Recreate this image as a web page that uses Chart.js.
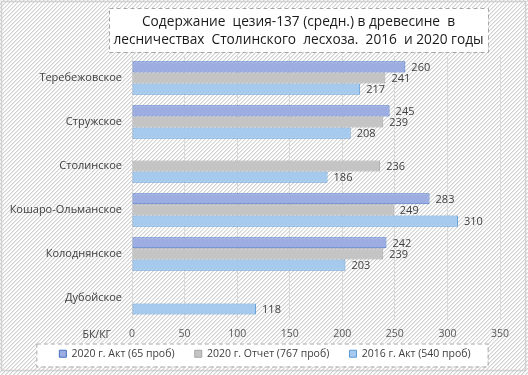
<!DOCTYPE html>
<html>
<head>
<meta charset="utf-8">
<script src="https://cdn.jsdelivr.net/npm/chart.js@4"></script>
<style>
  html, body { margin: 0; padding: 0; background: #fff; }
  #wrap { width: 528px; height: 375px; }
</style>
</head>
<body>
<div id="wrap"><canvas id="chart" width="528" height="375"></canvas></div>
<script>
'use strict'

const categories = ['Теребежовское', 'Стружское', 'Столинское', 'Кошаро-Ольманское', 'Колоднянское', 'Дубойское']
const act2020 = [260, 245, null, 283, 242, null]
const report2020 = [241, 239, 236, 249, 239, null]
const act2016 = [217, 208, 186, 310, 203, 118]
const seriesNames = ['2020 г. Акт (65 проб)', '2020 г. Отчет (767 проб)', '2016 г. Акт (540 проб)']
const xTicks = [0, 50, 100, 150, 200, 250, 300, 350]
const titleLines = ['Содержание  цезия-137 (средн.) в древесине  в', 'лесничествах  Столинского  лесхоза.  2016  и 2020 годы']
const unitLabel = 'БК/КГ'

const FONT = "'Open Sans', 'Noto Sans', sans-serif"
const TICK_PAD = 8

// light "/" hatch like the excel pattern fill
function makeHatch(ctx) {
  const c = document.createElement('canvas')
  c.width = 4
  c.height = 4
  const g = c.getContext('2d')
  const img = g.createImageData(4, 4)
  for (let y = 0; y < 4; y++) {
    for (let x = 0; x < 4; x++) {
      const i = (y * 4 + x) * 4
      const k = (x + y) % 4
      const v = k === 3 ? 210 : (k === 0 ? 234 : 255)
      img.data[i] = v
      img.data[i + 1] = v
      img.data[i + 2] = v
      img.data[i + 3] = 255
    }
  }
  g.putImageData(img, 0, 0)
  return ctx.createPattern(c, 'repeat')
}

function dashedBox(ctx, x, y, w, h) {
  ctx.save()
  ctx.fillStyle = '#fff'
  ctx.fillRect(x, y, w, h)
  ctx.setLineDash([4, 3])
  ctx.strokeStyle = '#a6a6a6'
  ctx.lineWidth = 1
  ctx.strokeRect(x + 0.5, y + 0.5, w, h)
  ctx.restore()
}

const decorPlugin = {
  id: 'decor',
  afterLayout(chart) {
    // legend is centred on the space left of the right padding; nudge it back to the middle
    chart.legend.left += 15
    chart.legend.right += 15
  },
  beforeDraw(chart) {
    const ctx = chart.ctx
    ctx.save()
    ctx.fillStyle = makeHatch(ctx)
    ctx.fillRect(0, 0, chart.width, chart.height)
    ctx.strokeStyle = '#d0d0d0'
    ctx.lineWidth = 1.5
    ctx.strokeRect(1.5, 1.5, 524, 369)
    ctx.restore()

    // title frame + text
    dashedBox(ctx, 109, 8, 379, 44)
    ctx.save()
    ctx.font = '13.7px ' + FONT
    ctx.fillStyle = '#1a1a1a'
    ctx.textAlign = 'center'
    ctx.textBaseline = 'middle'
    titleLines.forEach((line, i) => {
      ctx.fillText(line, 298.5, 22.5 + i * 18)
    })
    ctx.restore()

    // legend frame
    const boxes = chart.legend.legendHitBoxes
    if (boxes && boxes.length) {
      const last = boxes[boxes.length - 1]
      const left = boxes[0].left
      const right = last.left + last.width
      dashedBox(ctx, left - 23, boxes[0].top - 5, right - left + 40, 23)
    }
  },
  afterDatasetsDraw(chart) {
    const ctx = chart.ctx
    ctx.save()
    ctx.font = '11px ' + FONT
    ctx.fillStyle = '#404040'
    ctx.textAlign = 'left'
    ctx.textBaseline = 'middle'
    chart.data.datasets.forEach((ds, i) => {
      const meta = chart.getDatasetMeta(i)
      meta.data.forEach((bar, j) => {
        const v = ds.data[j]
        if (v === null) return
        ctx.fillText(String(v), bar.x + 6, bar.y + 1)
      })
    })

    // unit caption next to the value axis
    ctx.font = '10.5px ' + FONT
    ctx.textAlign = 'right'
    ctx.fillText(unitLabel, 111, chart.chartArea.bottom + TICK_PAD + 7)
    ctx.restore()
  }
}

new Chart(document.getElementById('chart').getContext('2d'), {
  type: 'bar',
  data: {
    labels: categories,
    datasets: [{
      label: seriesNames[0],
      data: act2020,
      backgroundColor: '#9dace1',
      borderColor: '#4472c4'
    }, {
      label: seriesNames[1],
      data: report2020,
      backgroundColor: '#c4c4c4',
      borderColor: '#a5a5a5'
    }, {
      label: seriesNames[2],
      data: act2016,
      backgroundColor: '#a6c9ee',
      borderColor: '#5b9bd5'
    }]
  },
  plugins: [decorPlugin],
  options: {
    indexAxis: 'y',
    responsive: false,
    animation: false,
    devicePixelRatio: 1,
    datasets: {
      bar: {
        categoryPercentage: 0.76,
        barPercentage: 1.0,
        borderWidth: 1,
        borderSkipped: false
      }
    },
    layout: {
      padding: { top: 56, left: 0, right: 28, bottom: 6 }
    },
    scales: {
      x: {
        min: 0,
        max: 350,
        afterBuildTicks: scale => {
          scale.ticks = xTicks.map(v => ({ value: v }))
        },
        // chart.js counts tick padding twice; drop the one below the labels
        afterFit: scale => {
          scale.height -= TICK_PAD
        },
        grid: { color: '#d9d9d9', drawTicks: false },
        border: { display: false },
        ticks: { padding: TICK_PAD, color: '#595959', font: { family: FONT, size: 10.5 } }
      },
      y: {
        grid: { display: false, drawTicks: false },
        border: { display: false },
        afterFit: scale => {
          scale.width = 132
        },
        ticks: { padding: 10, color: '#404040', font: { family: FONT, size: 11 } }
      }
    },
    plugins: {
      title: { display: false },
      legend: {
        position: 'bottom',
        labels: {
          boxWidth: 7,
          boxHeight: 7,
          padding: 8,
          color: '#404040',
          font: { family: FONT, size: 10.5 },
          // widen the gap between entries without touching the vertical padding
          generateLabels: chart => {
            const items = Chart.defaults.plugins.legend.labels.generateLabels(chart)
            items.forEach((item, i) => {
              if (i < items.length - 1) item.text += '\u2002\u2002\u2009'
            })
            return items
          }
        }
      },
      tooltip: { enabled: false }
    }
  }
})
</script>
</body>
</html>
